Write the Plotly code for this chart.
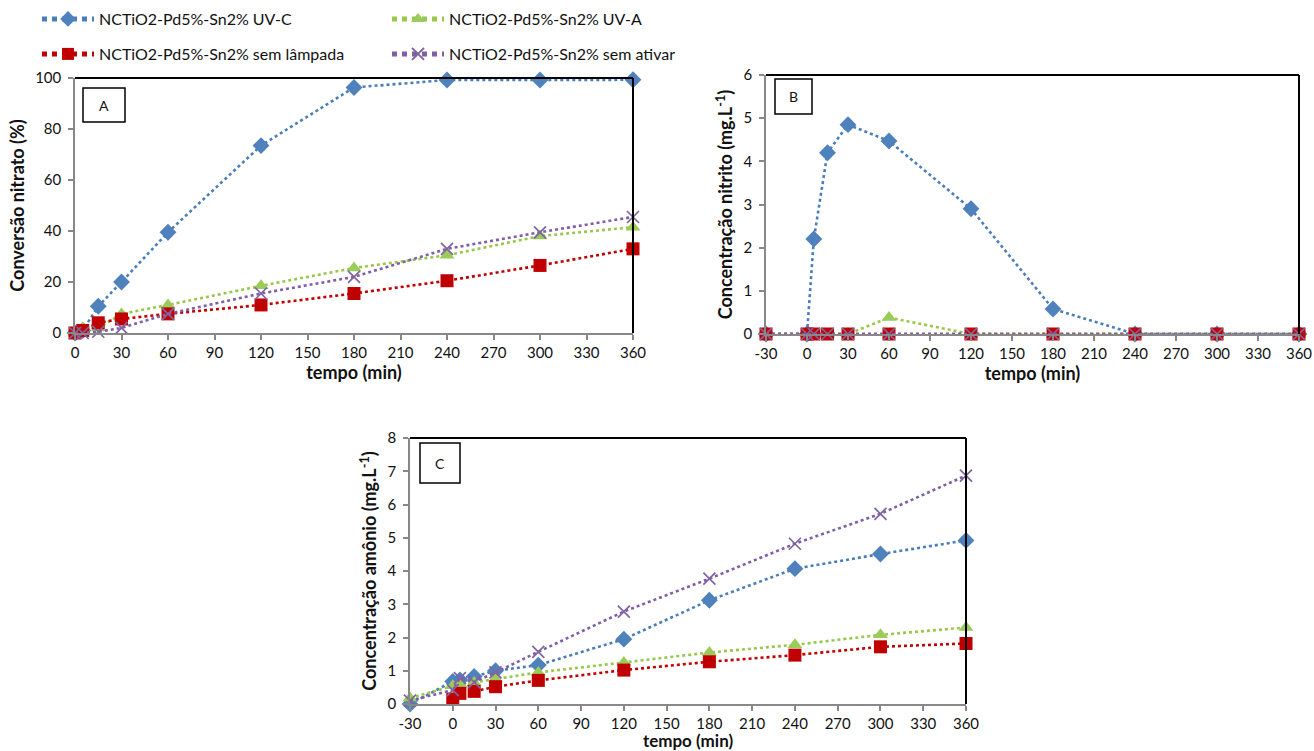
import plotly.graph_objects as go

W, H = 1314, 751

names = ["NCTiO2-Pd5%-Sn2% UV-C", "NCTiO2-Pd5%-Sn2% UV-A",
         "NCTiO2-Pd5%-Sn2% sem lâmpada", "NCTiO2-Pd5%-Sn2% sem ativar"]

# Panel A - nitrate conversion (%)
tA = [0, 5, 15, 30, 60, 120, 180, 240, 300, 360]
A_uvc = [0, 1, 10.5, 20, 39.5, 73.5, 96.3, 99.2, 99.2, 99.3]
A_uva = [0, 2, 2, 7.5, 11, 18.5, 25.5, 30.5, 38, 41.5]
A_sem_lamp = [0, 1, 4, 5.5, 7.5, 11, 15.5, 20.5, 26.5, 33]
A_sem_ativ = [0, 0, 0.5, 2, 7.5, 15.5, 22, 33, 39.5, 45.5]

# Panel B - nitrite concentration (mg/L)
tB = [-30, 0, 5, 15, 30, 60, 120, 180, 240, 300, 360]
B_uvc = [0, 0, 2.2, 4.2, 4.85, 4.47, 2.9, 0.58, 0, 0, 0]
B_uva = [0, 0, 0, 0, 0, 0.38, 0, 0, 0, 0, 0]
B_sem_lamp = [0, 0, 0, 0, 0, 0, 0, 0, 0, 0, 0]
B_sem_ativ = [0, 0, 0, 0, 0, 0, 0, 0, 0, 0, 0]

# Panel C - ammonium concentration (mg/L)
tC = [-30, 0, 5, 15, 30, 60, 120, 180, 240, 300, 360]
C_uvc = [0, 0.68, 0.72, 0.83, 1.0, 1.17, 1.95, 3.12, 4.07, 4.51, 4.92]
C_uva = [0.18, 0.55, 0.6, 0.65, 0.75, 0.95, 1.25, 1.55, 1.78, 2.08, 2.3]
tC_red = [0, 5, 15, 30, 60, 120, 180, 240, 300, 360]
C_sem_lamp = [0.15, 0.32, 0.38, 0.52, 0.71, 1.02, 1.27, 1.47, 1.72, 1.82]
C_sem_ativ = [0.1, 0.42, 0.78, 0.66, 0.95, 1.57, 2.78, 3.77, 4.82, 5.72, 6.87]

# Tick labels
xticks_A = [0, 30, 60, 90, 120, 150, 180, 210, 240, 270, 300, 330, 360]
xticks_BC = [-30, 0, 30, 60, 90, 120, 150, 180, 210, 240, 270, 300, 330, 360]
xticktext_BC = ["-30", "0", "30", "60", "90", "120", "150", "180", "210",
                "240", "270", "300", "330", "360"]

line_cols = ["#4A7EBB", "#98C84B", "#C00000", "#7F5FA8"]
mk_cols = ["#4F81BD", "#9BCB59", "#C00000", "#8064A2"]
symbols = ["diamond", "triangle-up", "square", "x-thin"]
msizes = [13, 13, 13, 12]

FONT = "Lato"
TICK_SIZE = 15
TITLE_SIZE = 18
LEG_SIZE = 16

fig = go.Figure()

panels = [
    ("x", "y", [tA, tA, tA, tA], [A_uvc, A_uva, A_sem_lamp, A_sem_ativ]),
    ("x2", "y2", [tB, tB, tB, tB], [B_uvc, B_uva, B_sem_lamp, B_sem_ativ]),
    ("x3", "y3", [tC, tC, tC_red, tC], [C_uvc, C_uva, C_sem_lamp, C_sem_ativ]),
]

for pi, (xa, ya, xs, ys) in enumerate(panels):
    for i in range(4):
        mk = dict(symbol=symbols[i], size=msizes[i], color=mk_cols[i])
        if symbols[i] == "x-thin":
            mk["line"] = dict(color=mk_cols[i], width=1.7)
        else:
            mk["line"] = dict(width=0)
        fig.add_trace(go.Scatter(
            x=xs[i], y=ys[i], mode="lines+markers", name=names[i],
            line=dict(color=line_cols[i], width=2.6, dash="dot"),
            marker=mk, xaxis=xa, yaxis=ya,
            showlegend=(pi == 0),
            legend=("legend" if i in (0, 1) else "legend2"),
            cliponaxis=False,
        ))


def px_x(p):
    return p / W


def px_y(p):
    return 1 - p / H


axis_common = dict(
    showgrid=False, zeroline=False, showline=True, linecolor="#888888",
    linewidth=1.5, ticks="outside", ticklen=5, tickcolor="#888888",
    tickwidth=1.5, tickfont=dict(family=FONT, size=TICK_SIZE, color="#111111"),
    automargin=False,
)
yax_common = dict(axis_common, ticklabelstandoff=4)
title_font = dict(family=FONT, size=TITLE_SIZE, color="#111111")

leg_common = dict(orientation="h", xanchor="left", yanchor="middle",
                  entrywidth=283, entrywidthmode="pixels", itemwidth=52,
                  font=dict(family=FONT, size=LEG_SIZE, color="#111111"),
                  bgcolor="rgba(0,0,0,0)", itemsizing="constant")

fig.update_layout(
    width=W, height=H, margin=dict(l=0, r=0, t=0, b=0, autoexpand=False),
    plot_bgcolor="white", paper_bgcolor="white",
    font=dict(family=FONT, color="#111111"),
    xaxis=dict(domain=[px_x(75), px_x(633)], range=[0, 360], tickvals=xticks_A,
               title=dict(text="<b>tempo (min)</b>", font=title_font, standoff=0),
               anchor="y", **axis_common),
    yaxis=dict(domain=[px_y(333), px_y(78)], range=[0, 100], dtick=20,
               title=dict(text="<b>Conversão nitrato (%)</b>", font=title_font, standoff=6),
               anchor="x", **yax_common),
    xaxis2=dict(domain=[px_x(766), px_x(1299)], range=[-30, 360],
                tickvals=xticks_BC, ticktext=xticktext_BC,
                title=dict(text="<b>tempo (min)</b>", font=title_font, standoff=0),
                anchor="y2", **axis_common),
    yaxis2=dict(domain=[px_y(334), px_y(75)], range=[0, 6], dtick=1,
                title=dict(text="<b>Concentração nitrito (mg.L<sup>-1</sup>)</b>", font=title_font, standoff=6),
                anchor="x2", **yax_common),
    xaxis3=dict(domain=[px_x(410), px_x(966)], range=[-30, 360],
                tickvals=xticks_BC, ticktext=xticktext_BC,
                title=dict(text="<b>tempo (min)</b>", font=dict(title_font, size=17), standoff=8),
                anchor="y3", **axis_common),
    yaxis3=dict(domain=[px_y(704), px_y(438)], range=[0, 8], dtick=1,
                title=dict(text="<b>Concentração amônio (mg.L<sup>-1</sup>)</b>", font=title_font, standoff=6),
                anchor="x3", **yax_common),
    legend=dict(leg_common, x=px_x(37), y=px_y(19)),
    legend2=dict(leg_common, x=px_x(37), y=px_y(54)),
)

shapes = []
annotations = []
for xa, ya in [("x", "y"), ("x2", "y2"), ("x3", "y3")]:
    # top and right black borders
    shapes.append(dict(type="line", xref=f"{xa} domain", yref=f"{ya} domain",
                       x0=0, x1=1, y0=1, y1=1, line=dict(color="black", width=2)))
    shapes.append(dict(type="line", xref=f"{xa} domain", yref=f"{ya} domain",
                       x0=1, x1=1, y0=0, y1=1, line=dict(color="black", width=2)))

# panel letter boxes
boxes = [("A", 83, 125, 88, 122), ("B", 775, 812, 79, 114), ("C", 420, 460, 443, 483)]
for letter, x0, x1, y0, y1 in boxes:
    shapes.append(dict(type="rect", xref="paper", yref="paper",
                       x0=px_x(x0), x1=px_x(x1), y0=px_y(y1), y1=px_y(y0),
                       line=dict(color="black", width=1.5), fillcolor="white", layer="above"))
    annotations.append(dict(text=letter, xref="paper", yref="paper",
                            x=px_x((x0 + x1) / 2), y=px_y((y0 + y1) / 2),
                            showarrow=False, font=dict(family=FONT, size=14, color="#111111"),
                            xanchor="center", yanchor="middle"))

fig.update_layout(shapes=shapes, annotations=annotations)

fig.write_html("out.html")
